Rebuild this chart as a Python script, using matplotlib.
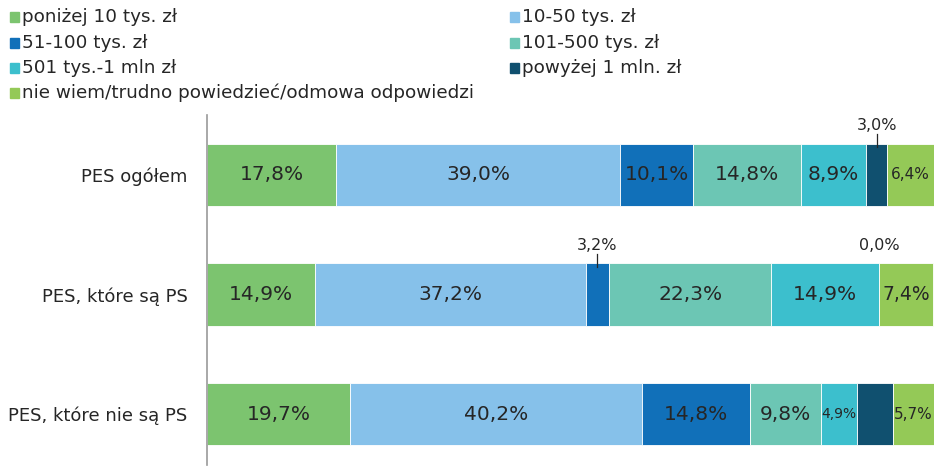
import numpy as np
import matplotlib.pyplot as plt
from matplotlib.patches import Rectangle

# dane (%)
categories = ["PES ogółem", "PES, które są PS", "PES, które nie są PS"]
series_names = ["poniżej 10 tys. zł", "10-50 tys. zł", "51-100 tys. zł", "101-500 tys. zł",
                "501 tys.-1 mln zł", "powyżej 1 mln. zł", "nie wiem/trudno powiedzieć/odmowa odpowiedzi"]
below_10k = [17.8, 14.9, 19.7]
k10_50 = [39.0, 37.2, 40.2]
k51_100 = [10.1, 3.2, 14.8]
k101_500 = [14.8, 22.3, 9.8]
k501_1m = [8.9, 14.9, 4.9]
above_1m = [3.0, 0.0, 4.9]
dont_know = [6.4, 7.4, 5.7]

series = [below_10k, k10_50, k51_100, k101_500, k501_1m, above_1m, dont_know]
colors = ["#7cc46f", "#86c1ea", "#1170b9", "#6cc6b4", "#3cbfcd", "#10506f", "#94c957"]

plt.rcParams['font.family'] = ['DejaVu Sans']
txt = "#262626"

fig = plt.figure(figsize=(9.36, 4.68), dpi=100)
ax = fig.add_axes([207 / 936, 3 / 468, 727 / 936, 350 / 468])

y = np.arange(len(categories))
left = np.zeros(len(categories))
for i, vals in enumerate(series):
    vals = np.array(vals)
    ax.barh(y, vals, left=left, height=0.52, color=colors[i], edgecolor="white", linewidth=0.6)
    for j, v in enumerate(vals):
        cx = left[j] + v / 2
        lab = f"{v:.1f}%".replace(".", ",")
        if v < 4.0:
            # mały segment - etykieta nad słupkiem
            ax.text(cx, y[j] - 0.35, lab, ha="center", va="bottom", fontsize=11.5,
                    color=txt)
            if v > 0:
                ax.plot([cx, cx], [y[j] - 0.23, y[j] - 0.34], color=txt, lw=0.9)
        elif i == 5:
            pass  # ciemny segment w 3. słupku bez etykiety
        else:
            if v < 5:
                fs = 10
            elif v < 7:
                fs = 11
            elif v < 8:
                fs = 13.5
            else:
                fs = 14.5
            ax.text(cx, y[j], lab, ha="center", va="center", fontsize=fs, color=txt)
    left += vals

ax.set_xlim(0, 100)
ax.set_ylim(2.425, -0.5)
ax.set_yticks(y)
ax.set_yticklabels(categories, fontsize=13, color=txt)
ax.tick_params(axis="y", length=0, pad=14)
ax.set_xticks([])
for s in ["top", "right", "bottom"]:
    ax.spines[s].set_visible(False)
ax.spines["left"].set_color("#999999")
ax.spines["left"].set_linewidth(1.2)

# legenda w dwóch kolumnach
leg_pos = [(10, 17), (510, 17), (10, 43), (510, 43), (10, 68), (510, 68), (10, 93)]
for (px, py), name, c in zip(leg_pos, series_names, colors):
    fig.patches.append(Rectangle((px / 936, 1 - (py + 5) / 468), 9 / 936, 10 / 468,
                                 transform=fig.transFigure, color=c))
    fig.text((px + 12) / 936, 1 - py / 468, name, ha="left", va="center",
             fontsize=13.2, color=txt)

fig.savefig("out.png", dpi=100)
